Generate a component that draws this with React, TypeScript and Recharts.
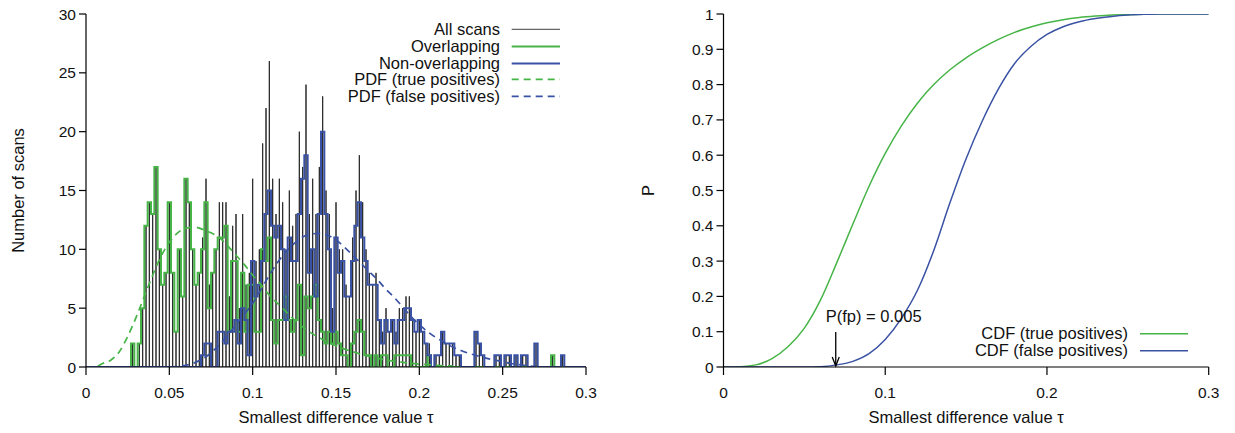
import React from 'react';
import {
  ComposedChart,
  LineChart,
  Line,
  XAxis,
  YAxis,
  Legend,
  ReferenceLine,
  ReferenceDot,
  Label,
} from 'recharts';

const FONT = '"Liberation Sans", Arial, Helvetica, sans-serif';
const GREEN = '#47b447';
const BLUE = '#3a52a4';
const IMPULSE = '#2a2a2a';
const TEXT = '#111111';

// ---------- Histogram (left) ----------
const BIN_WIDTH = 0.002; // bins centred at 0, 0.002, ..., 0.3

const overlapping = [
  0, 0, 0, 0, 0, 0, 0, 0, 0, 0,
  0, 0, 0, 0, 2, 0, 2, 5, 12, 14,
  13, 17, 10, 7, 8, 14, 8, 3, 10, 6,
  16, 14, 10, 7, 8, 10, 14, 5, 8, 10,
  11, 11, 12, 3, 9, 9, 3, 8, 3, 7,
  7, 3, 3, 10, 9, 11, 4, 2, 4, 4,
  6, 4, 3, 4, 7, 1, 6, 5, 6, 7,
  4, 3, 2, 3, 2, 3, 2, 1, 1, 0,
  2, 3, 4, 3, 1, 1, 0, 1, 0, 1,
  1, 0, 0, 1, 1, 1, 1, 1, 0, 0,
  0, 0, 0, 1, 0, 0, 0, 0, 0, 0,
  0, 0, 0, 0, 0, 0, 0, 0, 0, 0,
  0, 0, 0, 0, 0, 0, 0, 0, 0, 0,
  0, 0, 0, 0, 0, 0, 0, 0, 0, 0,
  1, 0, 0, 0, 0, 0, 0, 0, 0, 0,
  0,
];

const nonOverlapping = [
  0, 0, 0, 0, 0, 0, 0, 0, 0, 0,
  0, 0, 0, 0, 0, 0, 0, 0, 0, 0,
  0, 0, 0, 0, 0, 0, 0, 0, 0, 0,
  0, 0, 0, 0, 0, 1, 2, 2, 0, 0,
  3, 3, 2, 3, 3, 4, 2, 5, 4, 1,
  9, 6, 7, 9, 13, 15, 12, 11, 12, 10,
  4, 11, 9, 9, 13, 16, 18, 8, 10, 6,
  13, 20, 13, 10, 3, 11, 8, 9, 6, 6,
  9, 12, 14, 11, 9, 7, 7, 7, 4, 2,
  4, 3, 4, 2, 4, 4, 5, 5, 4, 3,
  4, 3, 2, 1, 0, 1, 1, 3, 2, 2,
  2, 1, 1, 0, 0, 0, 0, 3, 2, 1,
  0, 0, 0, 1, 1, 0, 1, 1, 0, 1,
  0, 1, 1, 0, 0, 2, 0, 0, 0, 0,
  0, 0, 0, 1, 0, 0, 0, 0, 0, 0,
  0,
];

const allScans = [
  0, 0, 0, 0, 0, 0, 0, 0, 0, 0,
  0, 0, 0, 0, 2, 0, 2, 5, 12, 14,
  13, 17, 10, 7, 8, 14, 8, 3, 10, 6,
  16, 14, 10, 7, 8, 11, 16, 7, 8, 10,
  14, 14, 14, 6, 12, 13, 5, 13, 7, 8,
  16, 9, 10, 19, 22, 26, 16, 13, 16, 14,
  10, 15, 12, 13, 20, 17, 24, 13, 16, 13,
  17, 23, 15, 13, 5, 14, 10, 10, 7, 6,
  11, 15, 18, 14, 10, 8, 7, 8, 4, 3,
  5, 3, 4, 3, 5, 5, 6, 6, 4, 3,
  4, 3, 2, 2, 0, 1, 1, 3, 2, 2,
  2, 1, 1, 0, 0, 0, 0, 3, 2, 1,
  0, 0, 0, 1, 1, 0, 1, 1, 0, 1,
  0, 1, 1, 0, 0, 2, 0, 0, 0, 0,
  1, 0, 0, 1, 0, 0, 0, 0, 0, 0,
  0,
];

// fitted PDFs, scaled to counts: [tau, value]
const pdfTruePositives: [number, number][] = [
  [0, 0], [0.005, 0], [0.01, 0.3], [0.015, 0.6], [0.02, 1.3], [0.025, 2.6],
  [0.03, 4.2], [0.035, 6.0], [0.04, 7.8], [0.045, 9.4], [0.05, 10.6],
  [0.055, 11.4], [0.06, 11.8], [0.065, 11.9], [0.07, 11.7], [0.075, 11.4],
  [0.08, 11.0], [0.085, 10.3], [0.09, 9.5], [0.095, 8.7], [0.1, 7.8],
  [0.105, 7.0], [0.11, 6.1], [0.115, 5.4], [0.12, 4.7], [0.125, 4.0],
  [0.13, 3.4], [0.135, 2.9], [0.14, 2.5], [0.145, 2.1], [0.15, 1.8],
  [0.16, 1.3], [0.17, 0.9], [0.18, 0.6], [0.19, 0.4], [0.2, 0.25],
  [0.21, 0.15], [0.22, 0.1],
];

const pdfFalsePositives: [number, number][] = [
  [0, 0], [0.05, 0], [0.055, 0.05], [0.06, 0.15], [0.065, 0.35], [0.07, 0.7],
  [0.075, 1.2], [0.08, 1.9], [0.085, 2.7], [0.09, 3.6], [0.095, 4.5],
  [0.1, 5.4], [0.105, 6.6], [0.11, 7.8], [0.115, 8.9], [0.12, 9.8],
  [0.125, 10.5], [0.13, 11.05], [0.135, 11.3], [0.14, 11.35], [0.145, 11.2],
  [0.15, 10.8], [0.155, 10.2], [0.16, 9.5], [0.165, 8.8], [0.17, 8.1],
  [0.175, 7.4], [0.18, 6.6], [0.185, 5.9], [0.19, 5.1], [0.195, 4.3],
  [0.2, 3.6], [0.205, 3.0], [0.21, 2.5], [0.215, 2.1], [0.22, 1.7],
  [0.225, 1.4], [0.23, 1.15], [0.235, 0.95], [0.24, 0.75], [0.245, 0.6],
  [0.25, 0.45], [0.255, 0.3], [0.26, 0.2], [0.265, 0.1], [0.27, 0.05],
];

const histTicksX = [0, 0.05, 0.1, 0.15, 0.2, 0.25, 0.3];
const histTicksY = [0, 5, 10, 15, 20, 25, 30];

// ---------- CDF (right) ----------
const cdfTau = [
  0, 0.01, 0.02, 0.03, 0.04, 0.05, 0.06, 0.07, 0.08, 0.09, 0.1,
  0.11, 0.12, 0.13, 0.14, 0.15, 0.16, 0.17, 0.18, 0.19, 0.2,
  0.21, 0.22, 0.23, 0.24, 0.25, 0.26, 0.27, 0.28, 0.29, 0.3,
];
const cdfTruePositives = [
  0, 0.001, 0.006, 0.024, 0.058, 0.11, 0.19, 0.295, 0.405, 0.512, 0.605,
  0.683, 0.748, 0.8, 0.842, 0.876, 0.904, 0.928, 0.948, 0.963, 0.975,
  0.984, 0.99, 0.994, 0.997, 0.998, 0.999, 1, 1, 1, 1,
];
const cdfFalsePositives = [
  0, 0, 0, 0, 0, 0, 0.001, 0.006, 0.016, 0.038, 0.078,
  0.138, 0.218, 0.33, 0.465, 0.59, 0.697, 0.788, 0.86, 0.908, 0.942,
  0.964, 0.978, 0.987, 0.993, 0.997, 0.999, 1, 1, 1, 1,
];
const cdfTicksX = [0, 0.1, 0.2, 0.3];
const cdfTicksY = [0, 0.1, 0.2, 0.3, 0.4, 0.5, 0.6, 0.7, 0.8, 0.9, 1];

const fpTau = 0.0694;
const fpArrowTop = 0.099;
const fpArrowTip = 0.003;
const fpLabelTau = 0.0632;
const fpLabelP = 0.127;
const fpLabel = 'P(fp) = 0.005';

// ---------- tables built for the library ----------
const tauOf = (i: number) => Number((i * BIN_WIDTH).toFixed(3));
const histData = overlapping.map((v, i) => ({
  tau: tauOf(i),
  overlapping: v,
  nonOverlapping: nonOverlapping[i],
}));
const impulseData = allScans.flatMap((v, i) => [
  { tau: tauOf(i), all: 0 },
  { tau: tauOf(i), all: v },
  { tau: tauOf(i), all: 0 },
]);
const pdfTrueData = pdfTruePositives.map(([tau, v]) => ({ tau, pdf: v }));
const pdfFalseData = pdfFalsePositives.map(([tau, v]) => ({ tau, pdf: v }));
const cdfData = cdfTau.map((tau, i) => ({
  tau,
  truePos: cdfTruePositives[i],
  falsePos: cdfFalsePositives[i],
}));

type LegendItem = { name: string; color: string; dash?: string; width: number };

const histLegend: LegendItem[] = [
  { name: 'All scans', color: '#666666', width: 1.4 },
  { name: 'Overlapping', color: GREEN, width: 2 },
  { name: 'Non-overlapping', color: BLUE, width: 2 },
  { name: 'PDF (true positives)', color: GREEN, dash: '7 5', width: 1.8 },
  { name: 'PDF (false positives)', color: BLUE, dash: '7 5', width: 1.8 },
];
const cdfLegend: LegendItem[] = [
  { name: 'CDF (true positives)', color: GREEN, width: 1.5 },
  { name: 'CDF (false positives)', color: BLUE, width: 1.5 },
];

const LegendBox = ({
  items,
  textWidth,
  rowHeight,
  gap,
  lineWidth,
}: {
  items: LegendItem[];
  textWidth: number;
  rowHeight: number;
  gap: number;
  lineWidth: number;
}) => (
  <div style={{ fontFamily: FONT, fontSize: 16.5, color: TEXT }}>
    {items.map((it) => (
      <div key={it.name} style={{ display: 'flex', alignItems: 'center', height: rowHeight }}>
        <div
          style={{
            width: textWidth,
            textAlign: 'right',
            lineHeight: rowHeight + 'px',
            whiteSpace: 'nowrap',
          }}
        >
          {it.name}
        </div>
        <svg width={gap + lineWidth} height={rowHeight} style={{ display: 'block' }}>
          <line
            x1={gap}
            x2={gap + lineWidth}
            y1={rowHeight / 2}
            y2={rowHeight / 2}
            stroke={it.color}
            strokeWidth={it.width}
            strokeDasharray={it.dash}
          />
        </svg>
      </div>
    ))}
  </div>
);

const tickStyle = { fill: TEXT, fontSize: 15.5, fontFamily: FONT };
const labelStyle = { fill: TEXT, fontSize: 16.5, fontFamily: FONT };
const axisLineStyle = { stroke: '#000', strokeWidth: 1.2 };
const tickLineStyle = { stroke: '#000', strokeWidth: 1.2 };

export default function App() {
  return (
    <div
      style={{
        position: 'absolute',
        left: 0,
        top: 0,
        width: 1235,
        height: 433,
        background: '#fff',
        fontFamily: FONT,
      }}
    >
      <div style={{ position: 'absolute', left: 0, top: 0 }}>
        <ComposedChart
          width={600}
          height={433}
          data={histData}
          margin={{ top: 14, right: 14, bottom: 6, left: 0 }}
        >
          <XAxis
            dataKey="tau"
            type="number"
            domain={[0, 0.3]}
            ticks={histTicksX}
            interval={0}
            allowDataOverflow
            height={60}
            tickSize={8}
            tickMargin={12}
            axisLine={axisLineStyle}
            tickLine={tickLineStyle}
            tick={tickStyle}
          >
            <Label value="Smallest difference value τ" position="insideBottom" offset={4} style={labelStyle} />
          </XAxis>
          <YAxis
            type="number"
            domain={[0, 30]}
            ticks={histTicksY}
            interval={0}
            allowDataOverflow
            width={86}
            tickSize={7}
            tickMargin={3}
            axisLine={axisLineStyle}
            tickLine={tickLineStyle}
            tick={tickStyle}
          >
            <Label
              value="Number of scans"
              angle={-90}
              position="insideLeft"
              offset={18}
              style={{ ...labelStyle, textAnchor: 'middle' }}
            />
          </YAxis>
          <Line
            data={impulseData}
            dataKey="all"
            type="linear"
            stroke={IMPULSE}
            strokeWidth={1}
            strokeLinejoin="bevel"
            dot={false}
            activeDot={false}
            isAnimationActive={false}
            name="All scans"
          />
          <Line
            dataKey="overlapping"
            type="step"
            stroke={GREEN}
            strokeWidth={2}
            dot={false}
            activeDot={false}
            isAnimationActive={false}
            name="Overlapping"
          />
          <Line
            dataKey="nonOverlapping"
            type="step"
            stroke={BLUE}
            strokeWidth={2}
            dot={false}
            activeDot={false}
            isAnimationActive={false}
            name="Non-overlapping"
          />
          <Line
            data={pdfTrueData}
            dataKey="pdf"
            type="monotone"
            stroke={GREEN}
            strokeWidth={1.7}
            strokeDasharray="7 5"
            dot={false}
            activeDot={false}
            isAnimationActive={false}
            name="PDF (true positives)"
          />
          <Line
            data={pdfFalseData}
            dataKey="pdf"
            type="monotone"
            stroke={BLUE}
            strokeWidth={1.7}
            strokeDasharray="7 5"
            dot={false}
            activeDot={false}
            isAnimationActive={false}
            name="PDF (false positives)"
          />
          <Legend
            layout="vertical"
            align="center"
            verticalAlign="middle"
            wrapperStyle={{ left: 300, top: 21, width: 262, height: 84 }}
            content={() => (
              <LegendBox items={histLegend} textWidth={200} rowHeight={16.8} gap={11.7} lineWidth={48.3} />
            )}
          />
        </ComposedChart>
      </div>

      <div style={{ position: 'absolute', left: 620, top: 0 }}>
        <LineChart
          width={615}
          height={433}
          data={cdfData}
          margin={{ top: 14, right: 26.3, bottom: 6, left: 0 }}
        >
          <XAxis
            dataKey="tau"
            type="number"
            domain={[0, 0.3]}
            ticks={cdfTicksX}
            interval={0}
            allowDataOverflow
            height={60}
            tickSize={8}
            tickMargin={12}
            axisLine={axisLineStyle}
            tickLine={tickLineStyle}
            tick={tickStyle}
          >
            <Label value="Smallest difference value τ" position="insideBottom" offset={4} style={labelStyle} />
          </XAxis>
          <YAxis
            type="number"
            domain={[0, 1]}
            ticks={cdfTicksY}
            interval={0}
            allowDataOverflow
            width={103.5}
            tickSize={7}
            tickMargin={3}
            axisLine={axisLineStyle}
            tickLine={tickLineStyle}
            tick={tickStyle}
          >
            <Label
              value="P"
              angle={-90}
              position="insideLeft"
              offset={28}
              style={{ ...labelStyle, textAnchor: 'middle' }}
            />
          </YAxis>
          <Line
            dataKey="truePos"
            type="monotone"
            stroke={GREEN}
            strokeWidth={1.5}
            dot={false}
            activeDot={false}
            isAnimationActive={false}
            name="CDF (true positives)"
          />
          <Line
            dataKey="falsePos"
            type="monotone"
            stroke={BLUE}
            strokeWidth={1.5}
            dot={false}
            activeDot={false}
            isAnimationActive={false}
            name="CDF (false positives)"
          />
          <ReferenceLine
            segment={[
              { x: fpTau, y: fpArrowTop },
              { x: fpTau, y: fpArrowTip },
            ]}
            stroke="#000"
            strokeWidth={1.3}
          />
          <ReferenceDot
            x={fpTau}
            y={fpArrowTip}
            r={3}
            shape={(p: any) => (
              <path
                d={`M${p.cx - 3.5},${p.cy - 9} L${p.cx},${p.cy} L${p.cx + 3.5},${p.cy - 9}`}
                fill="none"
                stroke="#000"
                strokeWidth={1.3}
              />
            )}
          />
          <ReferenceDot
            x={fpLabelTau}
            y={fpLabelP}
            r={3}
            shape={(p: any) => (
              <text x={p.cx} y={p.cy} fill={TEXT} fontSize={16.5} fontFamily={FONT} textAnchor="start">
                {fpLabel}
              </text>
            )}
          />
          <Legend
            layout="vertical"
            align="center"
            verticalAlign="middle"
            wrapperStyle={{ left: 308, top: 324.6, width: 262, height: 35 }}
            content={() => (
              <LegendBox items={cdfLegend} textWidth={200} rowHeight={17.4} gap={12} lineWidth={48} />
            )}
          />
        </LineChart>
      </div>
    </div>
  );
}
